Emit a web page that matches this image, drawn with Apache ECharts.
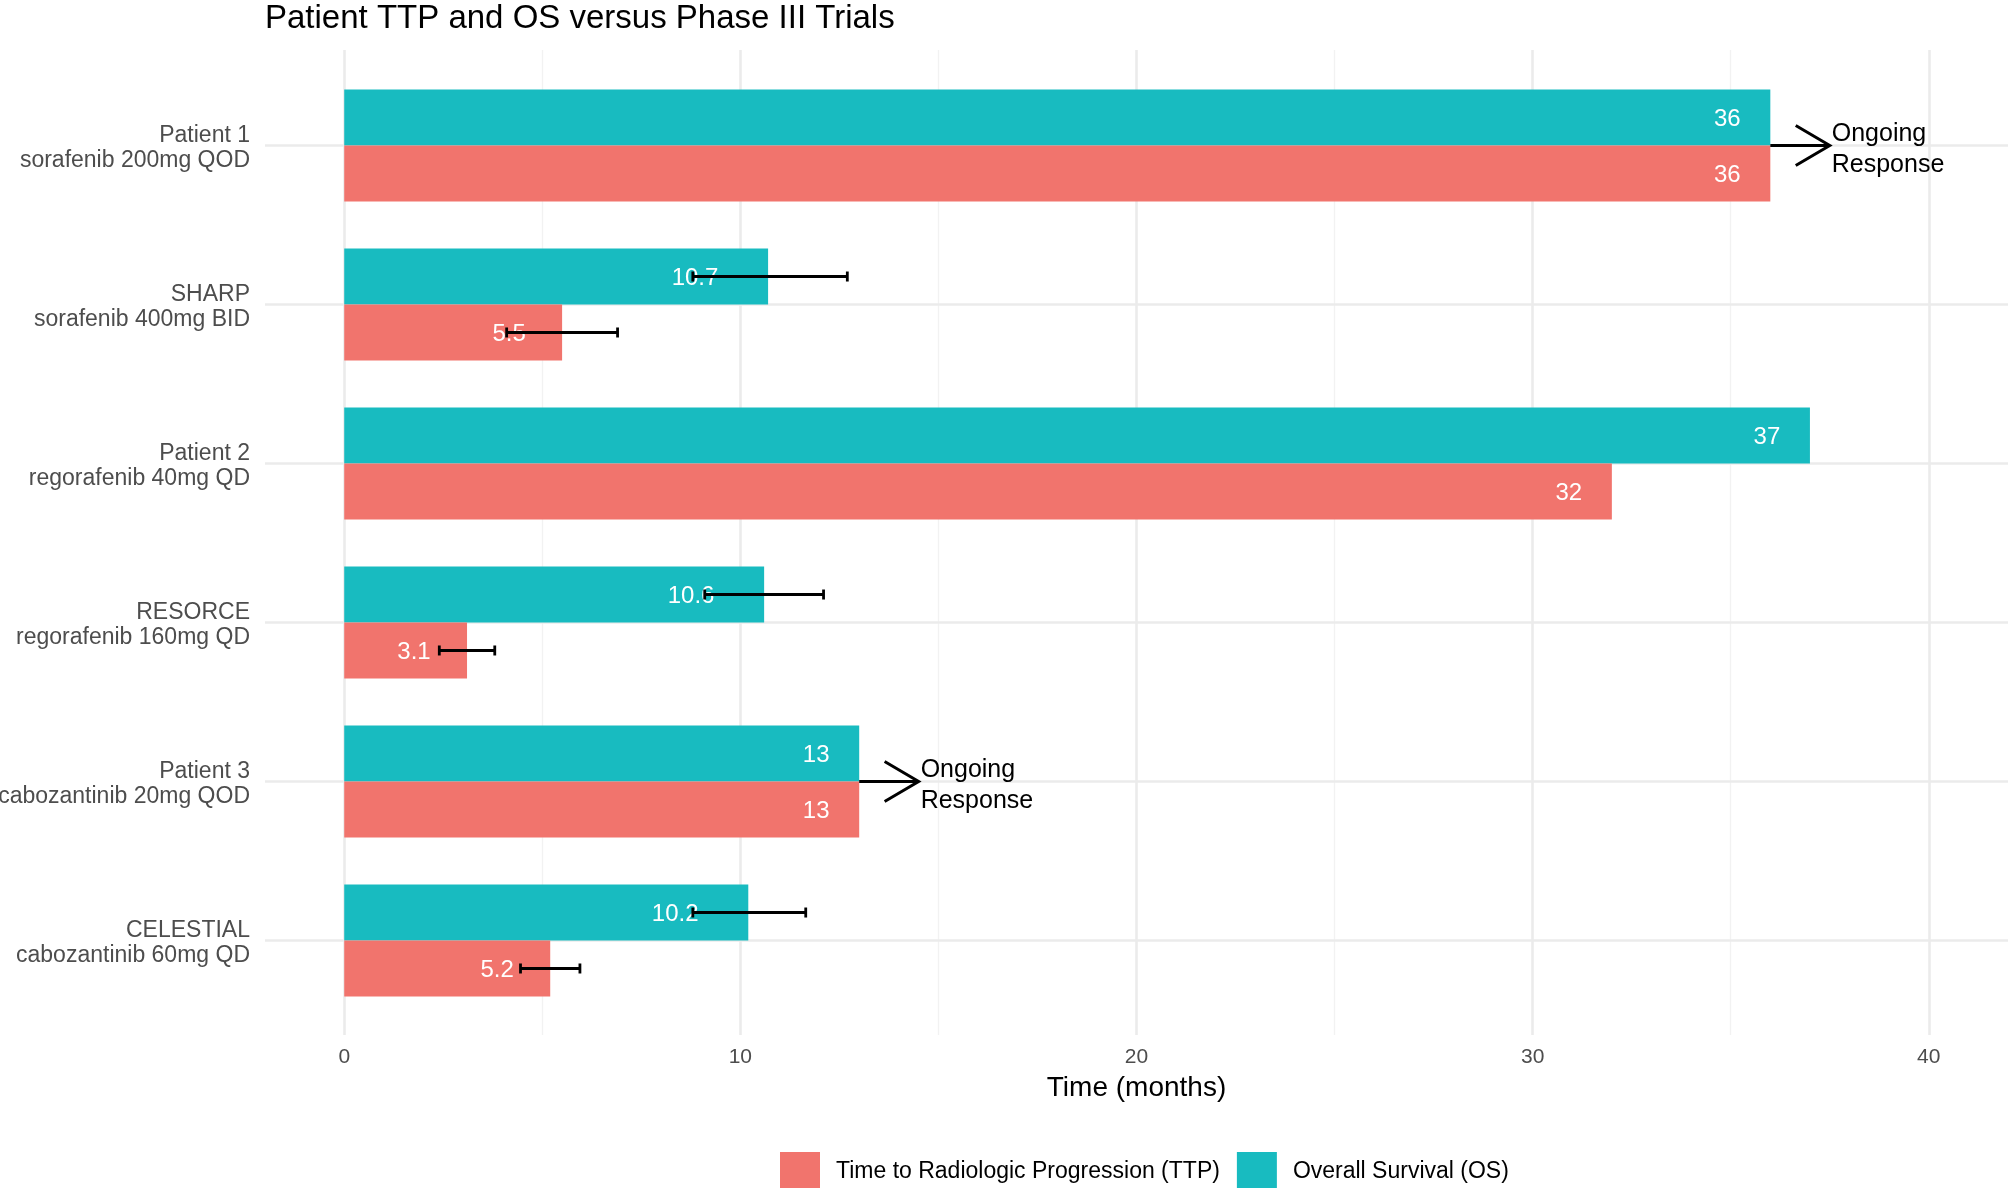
<!DOCTYPE html>
<html>
<head>
<meta charset="utf-8">
<script src="https://cdn.jsdelivr.net/npm/echarts@6/dist/echarts.min.js"></script>
<style>
  html, body { margin: 0; padding: 0; background: #fff; }
  #main { width: 2008px; height: 1188px; }
</style>
</head>
<body>
<div id="main"></div>
<script>
// trial / patient rows, top to bottom
var categories = [
    'Patient 1\nsorafenib 200mg QOD',
    'SHARP\nsorafenib 400mg BID',
    'Patient 2\nregorafenib 40mg QD',
    'RESORCE\nregorafenib 160mg QD',
    'Patient 3\ncabozantinib 20mg QOD',
    'CELESTIAL\ncabozantinib 60mg QD'
];
var ttpName = 'Time to Radiologic Progression (TTP)';
var osName = 'Overall Survival (OS)';
var ttpValues = [36, 5.5, 32, 3.1, 13, 5.2];
var osValues = [36, 10.7, 37, 10.6, 13, 10.2];
// confidence intervals (trials only)
var ttpLow = [null, 4.1, null, 2.4, null, 4.45];
var ttpHigh = [null, 6.9, null, 3.8, null, 5.95];
var osLow = [null, 8.8, null, 9.1, null, 8.8];
var osHigh = [null, 12.7, null, 12.1, null, 11.65];
// "Ongoing Response" arrows
var ongoingRows = [0, 4];
var arrowFrom = [36, 13];
var arrowTo = [37.5, 14.5];
var ongoingText = 'Ongoing\nResponse';
// x axis
var xMajor = [0, 10, 20, 30, 40];
var xMinor = [5, 15, 25, 35];

var red = '#F1746D';
var teal = '#18BBC0';
var font = 'Liberation Sans';

var myChart = echarts.init(document.getElementById('main'));

function ciData(low, high) {
    var out = [];
    for (var i = 0; i < categories.length; i++) {
        if (low[i] != null) out.push([i, low[i], high[i]]);
    }
    return out;
}

function errorBar(sign) {
    return function (params, api) {
        var cat = api.value(0);
        var a = api.coord([api.value(1), cat]);
        var b = api.coord([api.value(2), cat]);
        var band = api.size([0, 1])[1];
        var y = a[1] + sign * band * 0.176;
        var cap = 5;
        var st = { stroke: '#000', lineWidth: 2.8 };
        return {
            type: 'group',
            children: [
                { type: 'line', shape: { x1: a[0], y1: y, x2: b[0], y2: y }, style: st },
                { type: 'line', shape: { x1: a[0], y1: y - cap, x2: a[0], y2: y + cap }, style: st },
                { type: 'line', shape: { x1: b[0], y1: y - cap, x2: b[0], y2: y + cap }, style: st }
            ]
        };
    };
}

function barLabel(p) {
    return '{v|' + p.value + '}{h|' + p.value + '}';
}

var labelRich = {
    v: { color: '#fff', fontSize: 24, fontFamily: font },
    h: { color: 'rgba(0,0,0,0)', fontSize: 24, fontFamily: font }
};

var arrowData = ongoingRows.map(function (r, i) { return [r, arrowFrom[i], arrowTo[i]]; });

var option = {
    backgroundColor: '#fff',
    animation: false,
    textStyle: { fontFamily: font },
    title: {
        text: 'Patient TTP and OS versus Phase III Trials',
        left: 265,
        top: 2,
        padding: 0,
        textStyle: { fontFamily: font, fontSize: 33, fontWeight: 'normal', color: '#000' }
    },
    legend: {
        data: [ttpName, osName],
        left: 775,
        top: 1147,
        itemWidth: 40,
        itemHeight: 40,
        itemGap: 17,
        icon: 'rect',
        textStyle: { fontFamily: font, fontSize: 23, color: '#000', padding: [0, 0, 0, 11] }
    },
    grid: [
        { left: 265, right: 0, top: 66, height: 954, containLabel: false, outerBoundsMode: 'none' },
        { left: 265, right: 0, top: 50, height: 985, containLabel: false, outerBoundsMode: 'none' }
    ],
    xAxis: [
        { gridIndex: 0, type: 'value', min: -2, max: 42, show: false },
        {
            gridIndex: 1, type: 'value', min: -2, max: 42, position: 'bottom',
            axisLine: { show: false },
            axisTick: { show: false, customValues: xMajor },
            axisLabel: { customValues: xMajor, color: '#4d4d4d', fontSize: 21, margin: 12 },
            splitLine: { show: true, lineStyle: { color: '#ebebeb', width: 2.6 } },
            name: 'Time (months)',
            nameLocation: 'middle',
            nameGap: 39,
            nameTextStyle: { color: '#000', fontSize: 28 }
        },
        {
            gridIndex: 1, type: 'value', min: -2, max: 42, position: 'bottom',
            axisLine: { show: false },
            axisTick: { show: false, customValues: xMinor },
            axisLabel: { show: false, customValues: xMinor },
            splitLine: { show: true, lineStyle: { color: '#f2f2f2', width: 1.4 } }
        }
    ],
    yAxis: [
        {
            gridIndex: 0, type: 'category', data: categories, inverse: true,
            axisLine: { show: false },
            axisTick: { show: false },
            splitLine: { show: false },
            axisLabel: {
                color: '#4d4d4d', fontSize: 23, lineHeight: 25, margin: 15,
                formatter: function (v) { return '{t|' + v.replace('\n', '}\n{t|') + '}'; },
                rich: { t: { color: '#4d4d4d', fontSize: 23, lineHeight: 25, padding: [5, 0, 0, 0] } }
            }
        },
        { gridIndex: 1, type: 'value', min: 0, max: 1, show: false }
    ],
    series: [
        {
            // horizontal grid lines at row centres
            type: 'custom',
            xAxisIndex: 0, yAxisIndex: 0,
            z: 1,
            silent: true,
            data: categories.map(function (c, i) { return [i]; }),
            encode: { y: 0 },
            renderItem: function (params, api) {
                var y = api.coord([0, api.value(0)])[1];
                var cs = params.coordSys;
                return {
                    type: 'line',
                    shape: { x1: cs.x, y1: y, x2: cs.x + cs.width, y2: y },
                    style: { stroke: '#ebebeb', lineWidth: 2.6 }
                };
            }
        },
        {
            name: osName,
            type: 'bar',
            xAxisIndex: 0, yAxisIndex: 0,
            z: 2,
            data: osValues,
            itemStyle: { color: teal },
            barGap: '0%',
            barCategoryGap: '29.6%',
            label: { show: true, position: 'insideRight', distance: 3, offset: [0, 2], formatter: barLabel, rich: labelRich }
        },
        {
            name: ttpName,
            type: 'bar',
            xAxisIndex: 0, yAxisIndex: 0,
            z: 2,
            data: ttpValues,
            itemStyle: { color: red },
            label: { show: true, position: 'insideRight', distance: 3, offset: [0, 2], formatter: barLabel, rich: labelRich }
        },
        {
            type: 'custom',
            xAxisIndex: 0, yAxisIndex: 0,
            z: 3,
            silent: true,
            data: ciData(osLow, osHigh),
            encode: { x: [1, 2], y: 0 },
            renderItem: errorBar(-1)
        },
        {
            type: 'custom',
            xAxisIndex: 0, yAxisIndex: 0,
            z: 3,
            silent: true,
            data: ciData(ttpLow, ttpHigh),
            encode: { x: [1, 2], y: 0 },
            renderItem: errorBar(1)
        },
        {
            // ongoing response arrows
            type: 'custom',
            xAxisIndex: 0, yAxisIndex: 0,
            z: 3,
            silent: true,
            data: arrowData,
            encode: { x: [1, 2], y: 0 },
            renderItem: function (params, api) {
                var cat = api.value(0);
                var a = api.coord([api.value(1), cat]);
                var b = api.coord([api.value(2), cat]);
                var st = { stroke: '#000', lineWidth: 3, fill: null };
                return {
                    type: 'group',
                    children: [
                        { type: 'line', shape: { x1: a[0], y1: a[1], x2: b[0], y2: b[1] }, style: st },
                        { type: 'polyline', shape: { points: [[b[0] - 34, b[1] - 20], [b[0], b[1]], [b[0] - 34, b[1] + 20]] }, style: st },
                        {
                            type: 'text',
                            style: {
                                x: b[0] + 2, y: b[1] + 4,
                                text: ongoingText,
                                fill: '#000',
                                font: '25px "Liberation Sans"',
                                lineHeight: 31,
                                align: 'left',
                                verticalAlign: 'middle'
                            }
                        }
                    ]
                };
            }
        }
    ]
};
myChart.setOption(option);
</script>
</body>
</html>
